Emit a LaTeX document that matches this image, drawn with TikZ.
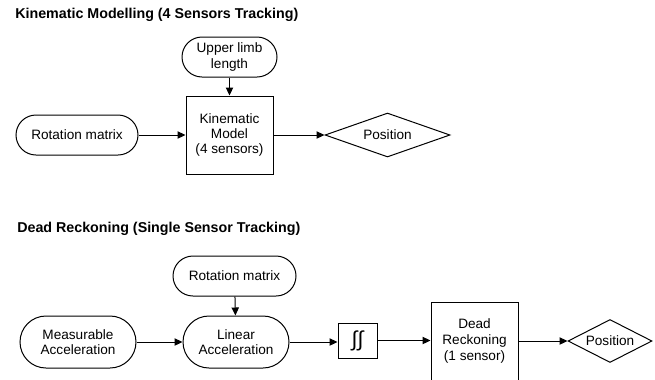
\documentclass[tikz,border=0pt]{standalone}
\usepackage{fontspec}
\setmainfont{Liberation Sans}
\usetikzlibrary{arrows.meta,shapes.geometric}
\begin{document}
\begin{tikzpicture}[x=0.75pt,y=-0.75pt,
  every node/.style={font=\fontsize{10.2pt}{11.6pt}\selectfont, align=center, inner sep=0pt},
  ttl/.style={anchor=west, font=\bfseries\fontsize{10.7pt}{12pt}\selectfont},
  stad/.style={draw, line width=0.75pt, rectangle, rounded corners=#1, minimum height=2*#1},
  boxn/.style={draw, line width=0.75pt, rectangle},
  dia/.style={draw, line width=0.75pt, diamond},
  conn/.style={line width=0.75pt, -{Triangle[length=6pt,width=5.5pt]}}
]
\useasboundingbox (0,0) rectangle (655,379);
% Upper diagram
\node[ttl] (t1) at (15,15) {Kinematic Modelling (4 Sensors Tracking)};
\node[stad=15pt, minimum width=71.25pt] (ul) at (229.5,57) {Upper limb\\length};
\node[boxn, minimum width=65.25pt, minimum height=58.5pt] (km) at (229.5,135) {Kinematic\\Model\\(4 sensors)};
\node[stad=15pt, minimum width=91.5pt] (rm1) at (77,135) {Rotation matrix};
\node[dia, minimum width=93.75pt, minimum height=33pt, aspect=2.84] (p1) at (387.5,135) {Position};
\draw[conn] (ul) -- (km);
\draw[conn] (rm1) -- (km);
\draw[conn] (km) -- (p1);
% Lower diagram
\node[ttl] (t2) at (17,229) {Dead Reckoning (Single Sensor Tracking)};
\node[stad=15pt, minimum width=92.25pt] (rm2) at (234.5,276) {Rotation matrix};
\node[stad=19.5pt, minimum width=79.5pt] (la) at (236,342) {Linear\\Acceleration};
\node[stad=19.5pt, minimum width=87pt] (ma) at (78,342) {Measurable\\Acceleration};
\node[boxn, minimum width=29.25pt, minimum height=26.25pt, font=\fontsize{16pt}{16pt}\selectfont] (in) at (357.5,340.5) {∫\kern0.2pt∫};
\node[boxn, minimum width=65.25pt, minimum height=58.5pt, font=\fontsize{10.2pt}{12.3pt}\selectfont] (dr) at (474.5,341) {Dead\\Reckoning\\(1 sensor)};
\node[dia, minimum width=63pt, minimum height=32.25pt, aspect=1.95] (p2) at (610,341) {Position};
\draw[conn] (rm2) -- (la);
\draw[conn] (ma.east) -- (ma.east -| la.west);
\draw[conn] (la.east) -- (la.east -| in.west);
\draw[conn] (in.east) -- (in.east -| dr.west);
\draw[conn] (dr.east) -- (dr.east -| p2.west);
\end{tikzpicture}
\end{document}
